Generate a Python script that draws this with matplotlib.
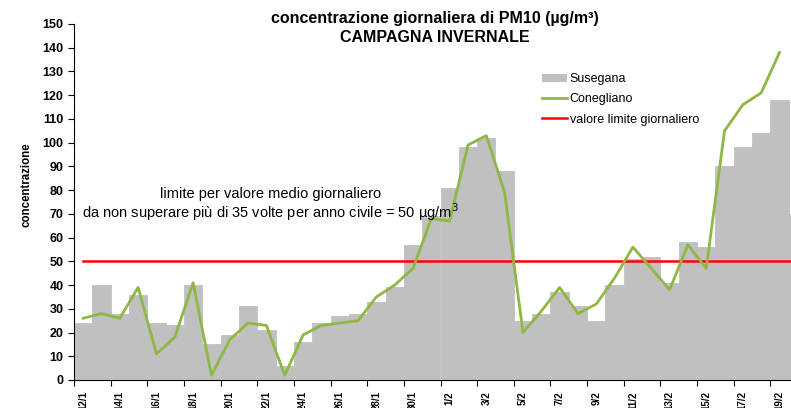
# PM10 campagna invernale - Susegana vs Conegliano

import numpy as np
import matplotlib.pyplot as plt
from matplotlib.patches import Patch
from matplotlib.lines import Line2D

plt.rcParams['font.family'] = ['Liberation Sans', 'DejaVu Sans']

days = [f"{d}/1" for d in range(12, 32)] + [f"{d}/2" for d in range(1, 21)]

susegana = [24, 40, 28, 36, 24, 23, 40, 15, 19, 31,
            21, 6, 16, 24, 27, 28, 33, 39, 57, 69,
            81, 98, 102, 88, 25, 28, 37, 31, 25, 40,
            51, 52, 41, 58, 56, 90, 98, 104, 118, 70]

conegliano = [26, 28, 26, 39, 11, 18, 41, 2, 17, 24,
              23, 2, 19, 23, 24, 25, 35, 40, 47, 68,
              67, 99, 103, 79, 20, 29, 39, 28, 32, 43,
              56, 47, 38, 57, 47, 105, 116, 121, 138, np.nan]

limite = [50] * len(days)

x = np.arange(len(days))

fig = plt.figure(figsize=(7.91, 4.08), dpi=100)
# axes runs past the right edge, like the original screenshot
ax = fig.add_axes([74 / 791, 28 / 408, 733 / 791, 356 / 408])

ax.bar(x, susegana, width=1.0, color='#c0c0c0', edgecolor='#c0c0c0',
       linewidth=0.6, zorder=1)
ax.plot(x, conegliano, color='#8fb744', lw=2.0, zorder=3)
ax.plot(x, limite, color='#ff0000', lw=1.8, zorder=2)

ax.set_xlim(-0.5, len(days) - 0.5)
ax.set_ylim(0, 150)
ax.set_yticks(range(0, 151, 10))
ax.tick_params(axis='y', direction='out', length=4, width=0.8, labelsize=9)
for lab in ax.get_yticklabels():
    lab.set_fontweight('bold')

ax.set_xticks(x[::2])
ax.set_xticklabels(days[::2], rotation=90, fontsize=7, fontweight='bold')
ax.set_xticks(np.arange(-0.5, len(days), 2), minor=True)
ax.tick_params(axis='x', which='major', length=0, pad=8)
ax.tick_params(axis='x', which='minor', direction='out', length=4, width=0.8)

ax.spines['top'].set_visible(False)
ax.spines['right'].set_visible(False)
ax.spines['left'].set_linewidth(0.8)
ax.spines['bottom'].set_linewidth(0.8)

fig.text(27 / 791, 1 - 185 / 408, 'concentrazione', rotation=90, fontsize=8.3,
         fontweight='bold', ha='center', va='center')

fig.text(435 / 791, 1 - 18 / 408, 'concentrazione giornaliera di PM10 (µg/m³)',
         fontsize=11.5, fontweight='bold', ha='center', va='center')
fig.text(435 / 791, 1 - 38 / 408, 'CAMPAGNA INVERNALE',
         fontsize=11.5, fontweight='bold', ha='center', va='center')

fig.text(271 / 791, 1 - 194 / 408, 'limite per valore medio giornaliero',
         fontsize=10.5, ha='center', va='center')
fig.text(270 / 791, 1 - 212 / 408,
         'da non superare più di 35 volte per anno civile = 50 µg/m$^3$',
         fontsize=10.5, ha='center', va='center')

handles = [Patch(facecolor='#c0c0c0', edgecolor='none'),
           Line2D([], [], color='#8fb744', lw=2.0),
           Line2D([], [], color='#ff0000', lw=1.8)]
labels = ['Susegana', 'Conegliano', 'valore limite giornaliero']
fig.legend(handles, labels, loc='upper left', bbox_to_anchor=(536 / 791, 1 - 67 / 408),
           frameon=False, fontsize=9, handlelength=2.0, handletextpad=0.2,
           labelspacing=0.65, borderpad=0)

fig.savefig('out.png', dpi=100)
